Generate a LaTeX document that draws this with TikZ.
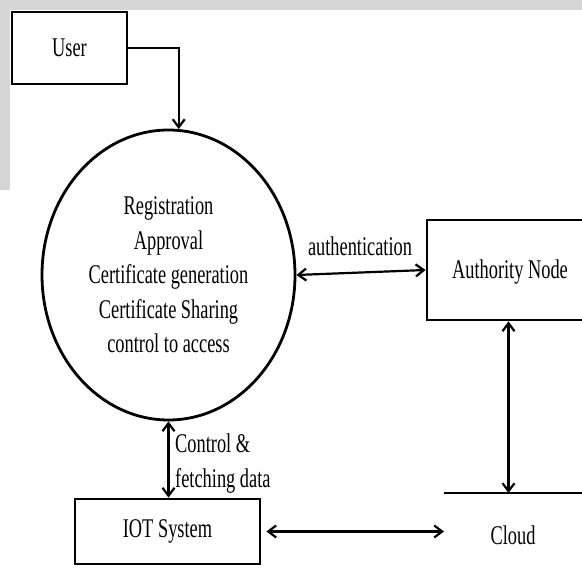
\documentclass[tikz,border=0pt]{standalone}
\usepackage{fontspec}
\setmainfont{Liberation Serif}[FakeStretch=0.68]
\usetikzlibrary{arrows.meta,shapes.geometric}

\begin{document}
\begin{tikzpicture}[x=1pt,y=-1pt,
  every node/.style={font=\fontsize{27}{34.5}\selectfont},
  entity/.style={draw,line width=2.8pt,rectangle,inner sep=0pt},
  barb/.tip={Straight Barb[length=8pt,width=12pt,line width=2.2pt]},
  flow/.style={line width=2.2pt},
  oneway/.style={flow,-barb},
  twoway/.style={flow,barb-barb},
  label/.style={inner sep=0pt}]
  \useasboundingbox (0,0) rectangle (582,569);

  % light grey band along the top and left margins
  \fill[gray!32] (0,0) rectangle (582,10.5);
  \fill[gray!32] (0,0) rectangle (10,190);

  % external entities
  \node[entity,minimum width=115pt,minimum height=72pt] (user) at (69.5,48) {User};
  \node[entity,minimum width=163pt,minimum height=100pt] (auth) at (508.5,270) {};
  \node[label] (authtext) at (510,272) {Authority Node};
  \node[entity,minimum width=185pt,minimum height=65pt] (iot) at (167.5,531.5) {IOT System};

  % central process
  \node[draw,ellipse,line width=2.8pt,minimum width=253pt,minimum height=290pt,
        inner sep=0pt,align=center] (circ) at (168.5,275)
    {Registration\\Approval\\Certificate generation\\Certificate Sharing\\control to access};

  % data store
  \coordinate (cla) at (444,493);
  \coordinate (clb) at (582,493);
  \draw[line width=2.8pt] (cla) -- (clb);
  \node[label] (cloud) at (513,535) {Cloud};

  % flows
  \draw[oneway] (user.east) -| (circ.86);
  \draw[twoway] (circ.east) -- (auth.west);
  \node[label] (authlbl) at (360,246) {authentication};
  \draw[twoway] (auth.south) -- (auth.south |- cla);
  \draw[twoway,shorten <=5pt] (iot.east) -- (cla |- iot.east);
  \draw[twoway] (circ.south) -- (circ.south |- iot.north);
  \node[label,anchor=base west] (ctl1) at (175,453) {Control \&};
  \node[label,anchor=base west] (ctl2) at (175,488) {fetching data};
\end{tikzpicture}
\end{document}
